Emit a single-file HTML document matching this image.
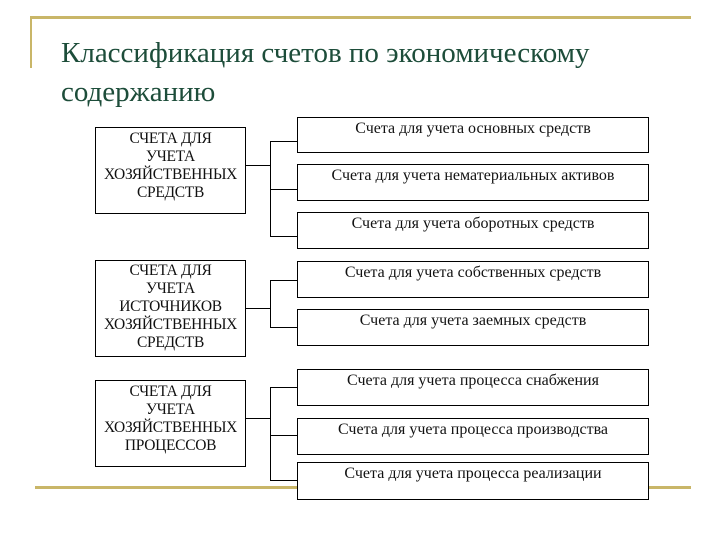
<!DOCTYPE html>
<html><head><meta charset="utf-8"><style>
body{margin:0;width:720px;height:540px;background:#fff;position:relative;overflow:hidden;font-family:"Liberation Serif",serif}
.t{position:absolute;left:61px;top:34px;font-size:29px;line-height:39px;color:#1d4d3a;white-space:nowrap}
.b{position:absolute;border:1px solid #000;background:#fff;text-align:center;color:#111;box-sizing:border-box;white-space:nowrap;overflow:visible}
.l{font-size:15.5px;line-height:18px;padding-top:2px;letter-spacing:-0.3px}
.r{padding-top:2px;font-size:16px;line-height:18px}
.h{position:absolute;background:#000;height:1px}
.v{position:absolute;background:#000;width:1px}
.g{position:absolute;background:#c9b668}
</style></head><body>
<div class="g" style="left:30px;top:16px;width:661px;height:3px"></div>
<div class="g" style="left:30px;top:16px;width:2px;height:52px"></div>
<div class="g" style="left:35px;top:486px;width:656px;height:3px"></div>
<div class="t">Классификация счетов по экономическому<br>содержанию</div>

<div class="b l" style="left:95px;top:127px;width:151px;height:87px">СЧЕТА ДЛЯ<br>УЧЕТА<br>ХОЗЯЙСТВЕННЫХ<br>СРЕДСТВ</div>
<div class="h" style="left:246px;top:165px;width:24px"></div>
<div class="v" style="left:270px;top:141px;height:96px"></div>
<div class="h" style="left:270px;top:141px;width:27px"></div>
<div class="h" style="left:270px;top:189px;width:27px"></div>
<div class="h" style="left:270px;top:236px;width:27px"></div>
<div class="b r" style="left:297px;top:117px;width:352px;height:36px">Счета для учета основных средств</div>
<div class="b r" style="left:297px;top:164px;width:352px;height:37px">Счета для учета нематериальных активов</div>
<div class="b r" style="left:297px;top:212px;width:352px;height:37px">Счета для учета оборотных средств</div>

<div class="b l" style="left:95px;top:260px;width:151px;height:97px;padding-top:1px">СЧЕТА ДЛЯ<br>УЧЕТА<br>ИСТОЧНИКОВ<br>ХОЗЯЙСТВЕННЫХ<br>СРЕДСТВ</div>
<div class="h" style="left:246px;top:308px;width:24px"></div>
<div class="v" style="left:270px;top:280px;height:48px"></div>
<div class="h" style="left:270px;top:280px;width:27px"></div>
<div class="h" style="left:270px;top:327px;width:27px"></div>
<div class="b r" style="left:297px;top:261px;width:352px;height:37px">Счета для учета собственных средств</div>
<div class="b r" style="left:297px;top:309px;width:352px;height:37px">Счета для учета заемных средств</div>

<div class="b l" style="left:95px;top:380px;width:151px;height:87px">СЧЕТА ДЛЯ<br>УЧЕТА<br>ХОЗЯЙСТВЕННЫХ<br>ПРОЦЕССОВ</div>
<div class="h" style="left:246px;top:418px;width:24px"></div>
<div class="v" style="left:270px;top:387px;height:94px"></div>
<div class="h" style="left:270px;top:387px;width:27px"></div>
<div class="h" style="left:270px;top:435px;width:27px"></div>
<div class="h" style="left:270px;top:480px;width:27px"></div>
<div class="b r" style="left:297px;top:369px;width:352px;height:37px">Счета для учета процесса снабжения</div>
<div class="b r" style="left:297px;top:418px;width:352px;height:37px">Счета для учета процесса производства</div>
<div class="b r" style="left:297px;top:462px;width:352px;height:38px">Счета для учета процесса реализации</div>
</body></html>
